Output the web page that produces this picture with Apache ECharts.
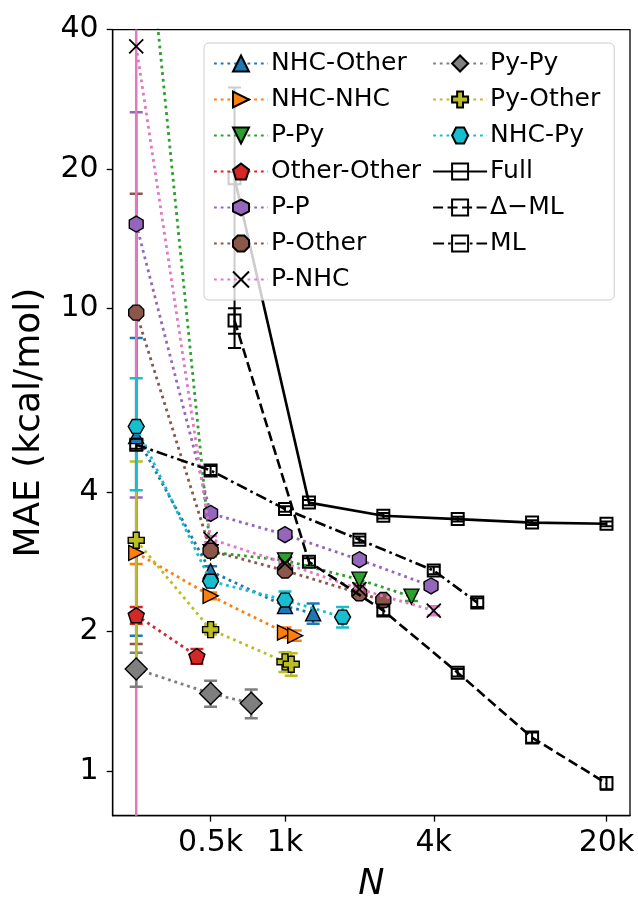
<!DOCTYPE html>
<html><head><meta charset="utf-8">
<script src="https://cdn.jsdelivr.net/npm/echarts@6/dist/echarts.min.js"></script>
<style>html,body{margin:0;padding:0;background:#fff}#c{width:638px;height:897px}</style>
</head><body><div id="c"></div>
<script>
// ---------- data ----------
const seriesNames = ['NHC-Other','NHC-NHC','P-Py','Other-Other','P-P','P-Other','P-NHC','Py-Py','Py-Other','NHC-Py','Full','\u0394\u2212ML','ML'];

const nhcOtherN   = [250, 500, 1000, 1300];
const nhcOtherMAE = [5.29, 2.70, 2.27, 2.19];
const nhcOtherErr = [3.33, 0.07, 0.07, 0.11];

const nhcNhcN   = [250, 500, 1000, 1100];
const nhcNhcMAE = [2.96, 2.39, 1.99, 1.96];
const nhcNhcErr = [0.16, 0.04, 0.05, 0.05];

const pPyN   = [250, 500, 1000, 2000, 3250];
const pPyMAE = [118, 2.97, 2.85, 2.59, 2.38];
const pPyErr = [30, 0.06, 0.05, 0.05, 0.05];

const otherOtherN   = [250, 440];
const otherOtherMAE = [2.17, 1.77];
const otherOtherErr = [0.09, 0.065];

const pPN   = [250, 500, 1000, 2000, 3900];
const pPMAE = [15.2, 3.60, 3.24, 2.86, 2.51];
const pPErr = [11.3, 0.05, 0.05, 0.05, 0.05];

const pOtherN   = [250, 500, 1000, 2000, 2500];
const pOtherMAE = [9.78, 2.99, 2.71, 2.42, 2.34];
const pOtherErr = [7.9, 0.05, 0.05, 0.05, 0.05];

const pNhcN   = [250, 500, 1000, 2000, 4000];
const pNhcMAE = [36.8, 3.17, 2.81, 2.47, 2.22];
const pNhcErr = [60, 0.05, 0.05, 0.05, 0.05];

const pyPyN   = [250, 500, 730];
const pyPyMAE = [1.66, 1.47, 1.40];
const pyPyErr = [0.14, 0.095, 0.10];

const pyOtherN   = [250, 500, 1000, 1060];
const pyOtherMAE = [3.15, 2.02, 1.72, 1.70];
const pyOtherErr = [1.51, 0.05, 0.085, 0.095];

const nhcPyN   = [250, 500, 1000, 1710];
const nhcPyMAE = [5.55, 2.57, 2.34, 2.15];
const nhcPyErr = [1.51, 0.05, 0.10, 0.11];

const fullN   = [625, 1250, 2500, 5000, 10000, 20000];
const fullMAE = [19.1, 3.80, 3.56, 3.50, 3.44, 3.42];
const fullErr = [10.9, 0.05, 0.05, 0.04, 0.04, 0.04];

const deltaN   = [625, 1250, 2500, 5000, 10000, 20000];
const deltaMAE = [9.4, 2.83, 2.22, 1.63, 1.18, 0.94];
const deltaErr = [0.6, 0.05, 0.05, 0.03, 0.03, 0.03];

const mlN   = [250, 500, 1000, 2000, 4000, 6000];
const mlMAE = [5.07, 4.46, 3.68, 3.16, 2.71, 2.31];
const mlErr = [0.10, 0.10, 0.05, 0.05, 0.05, 0.05];

const xTickValues = [500, 1000, 4000, 20000];
const xTickLabels = ['0.5k', '1k', '4k', '20k'];
const yTickValues = [1, 2, 4, 10, 20, 40];
const yTickLabels = ['1', '2', '4', '10', '20', '40'];

// ---------- styles ----------
const P = {
  rtri: 'path://M1,0L-1,1L-1,-1Z',
  dtri: 'path://M0,1L-1,-1L1,-1Z',
  pent: 'path://M0,-1L0.951,-0.309L0.588,0.809L-0.588,0.809L-0.951,-0.309Z',
  hex1: 'path://M0,-1L0.866,-0.5L0.866,0.5L0,1L-0.866,0.5L-0.866,-0.5Z',
  hex2: 'path://M-1,0L-0.5,-0.866L0.5,-0.866L1,0L0.5,0.866L-0.5,0.866Z',
  oct: 'path://M0.924,0.383L0.383,0.924L-0.383,0.924L-0.924,0.383L-0.924,-0.383L-0.383,-0.924L0.383,-0.924L0.924,-0.383Z',
  plus: 'path://M-1.1,-3L1.1,-3L1.1,-1.1L3,-1.1L3,1.1L1.1,1.1L1.1,3L-1.1,3L-1.1,1.1L-3,1.1L-3,-1.1L-1.1,-1.1Z',
  cross: 'path://M-1,-1L1,1M1,-1L-1,1'
};
const DOT = [2.8, 3.9];
const specs = [
  {n: nhcOtherN, y: nhcOtherMAE, e: nhcOtherErr, color: '#1f77b4', symbol: 'triangle', size: 15},
  {n: nhcNhcN, y: nhcNhcMAE, e: nhcNhcErr, color: '#ff7f0e', symbol: P.rtri, size: 15},
  {n: pPyN, y: pPyMAE, e: pPyErr, color: '#2ca02c', symbol: P.dtri, size: 15},
  {n: otherOtherN, y: otherOtherMAE, e: otherOtherErr, color: '#d62728', symbol: P.pent, size: 16},
  {n: pPN, y: pPMAE, e: pPErr, color: '#9467bd', symbol: P.hex1, size: 16},
  {n: pOtherN, y: pOtherMAE, e: pOtherErr, color: '#8c564b', symbol: P.oct, size: 15},
  {n: pNhcN, y: pNhcMAE, e: pNhcErr, color: '#e377c2', symbol: P.cross, size: 14, cross: true},
  {n: pyPyN, y: pyPyMAE, e: pyPyErr, color: '#7f7f7f', symbol: 'diamond', size: 22},
  {n: pyOtherN, y: pyOtherMAE, e: pyOtherErr, color: '#bcbd22', symbol: P.plus, size: 16},
  {n: nhcPyN, y: nhcPyMAE, e: nhcPyErr, color: '#17becf', symbol: P.hex2, size: 16},
  {n: fullN, y: fullMAE, e: fullErr, color: '#000', symbol: 'rect', size: 12, black: true, dash: 'solid'},
  {n: deltaN, y: deltaMAE, e: deltaErr, color: '#000', symbol: 'rect', size: 12, black: true, dash: [10, 4.5]},
  {n: mlN, y: mlMAE, e: mlErr, color: '#000', symbol: 'rect', size: 12, black: true, dash: [11, 4, 2.7, 4]}
];

const FONT = 'DejaVu Sans';
const series = [];

specs.forEach((s, k) => {
  const errData = s.n.map((x, i) => [x, s.y[i], Math.max(s.y[i] - s.e[i], 0.01), s.y[i] + s.e[i]]);
  series.push({
    type: 'custom', name: 'err' + k, z: 1, clip: true, silent: true,
    encode: {x: 0, y: [2, 3]},
    data: errData,
    renderItem: (params, api) => {
      const x = api.value(0);
      const lo = api.coord([x, api.value(2)]);
      const hi = api.coord([x, api.value(3)]);
      const hw = 6.5;
      const st = {stroke: s.color, lineWidth: s.black ? 2 : 2.5, fill: null};
      return {type: 'group', children: [
        {type: 'line', shape: {x1: lo[0], y1: lo[1], x2: hi[0], y2: hi[1]}, style: st},
        {type: 'line', shape: {x1: lo[0] - hw, y1: lo[1], x2: lo[0] + hw, y2: lo[1]}, style: st},
        {type: 'line', shape: {x1: hi[0] - hw, y1: hi[1], x2: hi[0] + hw, y2: hi[1]}, style: st}
      ]};
    }
  });
});

specs.forEach((s, k) => {
  const itemStyle = s.black
    ? {color: 'rgba(0,0,0,0)', borderColor: '#000', borderWidth: 2}
    : s.cross
      ? {color: '#000', borderColor: '#000', borderWidth: 1.8}
      : {color: s.color, borderColor: '#000', borderWidth: 1.4};
  series.push({
    type: 'line', name: seriesNames[k], z: 2 + k * 0.01,
    data: s.n.map((x, i) => [x, s.y[i]]),
    symbol: s.symbol, symbolSize: s.size, symbolKeepAspect: true,
    showSymbol: true, clip: true,
    lineStyle: {color: s.color, width: s.black ? 2.6 : 2.8, type: s.black ? s.dash : DOT},
    itemStyle: itemStyle,
    emphasis: {disabled: true}
  });
});

function lab(vals, labels) {
  return v => {
    for (let i = 0; i < vals.length; i++) if (Math.abs(v - vals[i]) / vals[i] < 1e-6) return labels[i];
    return '';
  };
}

const chart = echarts.init(document.getElementById('c'), null, {renderer: 'canvas'});
chart.setOption({
  animation: false,
  backgroundColor: '#fff',
  textStyle: {fontFamily: FONT},
  grid: {left: 112.7, right: 8, top: 29.6, bottom: 81.3, show: true, borderColor: '#000', borderWidth: 1.3,
         backgroundColor: 'transparent', containLabel: false, outerBoundsMode: 'none'},
  xAxis: {
    type: 'log', min: 200.8, max: 24900,
    name: 'N', nameLocation: 'middle', nameGap: 52,
    nameTextStyle: {fontFamily: FONT, fontSize: 35, fontStyle: 'italic', color: '#000'},
    axisLine: {show: true, lineStyle: {color: '#000', width: 1.3}},
    axisTick: {show: true, customValues: xTickValues, length: 6, inside: false, lineStyle: {color: '#000', width: 1.3}},
    axisLabel: {customValues: xTickValues, formatter: lab(xTickValues, xTickLabels), fontSize: 30, color: '#000', fontFamily: FONT, margin: 13},
    splitLine: {show: false}, minorTick: {show: false}
  },
  yAxis: {
    type: 'log', min: 0.8, max: 40,
    name: 'MAE (kcal/mol)', nameLocation: 'middle', nameGap: 65, nameRotate: 90,
    nameTextStyle: {fontFamily: FONT, fontSize: 36, color: '#000'},
    axisLine: {show: true, lineStyle: {color: '#000', width: 1.3}},
    axisTick: {show: true, customValues: yTickValues, length: 6, inside: false, lineStyle: {color: '#000', width: 1.3}},
    axisLabel: {customValues: yTickValues, formatter: lab(yTickValues, yTickLabels), fontSize: 30, color: '#000', fontFamily: FONT, margin: 14},
    splitLine: {show: false}, minorTick: {show: false}
  },
  legend: {
    data: seriesNames, orient: 'vertical', left: 204, top: 43, height: 250,
    itemWidth: 54, itemHeight: 20, itemGap: 11,
    padding: [8, 14, 8, 9],
    backgroundColor: 'rgba(255,255,255,0.8)', borderColor: '#cccccc', borderWidth: 1, borderRadius: 5,
    textStyle: {fontFamily: FONT, fontSize: 25, color: '#000', padding: [0, 0, 0, -2]},
    selectedMode: false
  },
  series: series
});
</script></body></html>
